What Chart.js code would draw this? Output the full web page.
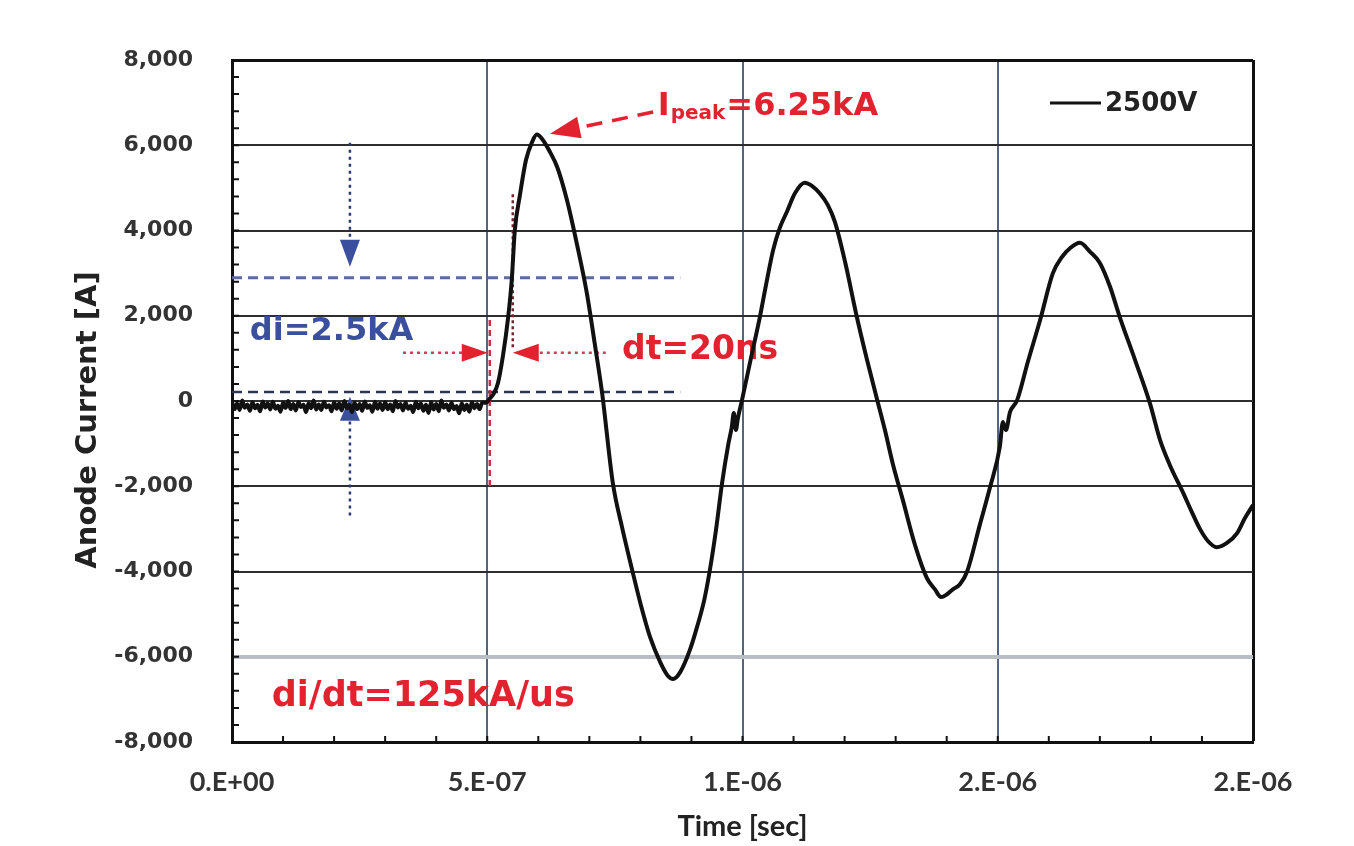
<!DOCTYPE html>
<html>
<head>
<meta charset="utf-8">
<script src="https://cdn.jsdelivr.net/npm/chart.js@4"></script>
<style>
  html, body { margin: 0; padding: 0; background: #ffffff; }
  #wrap { width: 1354px; height: 846px; position: relative; }
</style>
</head>
<body>
<div id="wrap"><canvas id="c" width="1354" height="846"></canvas></div>
<script>
// Anode current waveform of a 2500 V discharge (time in ns, current in A)
const seriesLabel = '2500V';

// pre-trigger baseline noise, sampled every 5 ns
const baselineNs = [
  0, 5, 10, 15, 20, 25, 30, 35, 40, 45,
  50, 55, 60, 65, 70, 75, 80, 85, 90, 95,
  100, 105, 110, 115, 120, 125, 130, 135, 140, 145,
  150, 155, 160, 165, 170, 175, 180, 185, 190, 195,
  200, 205, 210, 215, 220, 225, 230, 235, 240, 245,
  250, 255, 260, 265, 270, 275, 280, 285, 290, 295,
  300, 305, 310, 315, 320, 325, 330, 335, 340, 345,
  350, 355, 360, 365, 370, 375, 380, 385, 390, 395,
  400, 405, 410, 415, 420, 425, 430, 435, 440, 445,
  450, 455, 460, 465, 470, 475, 480, 485, 490
];
const baselineA = [
  -20, -190, -60, -210, 10, -160, -80, -230, -30, -170,
  -90, -240, -10, -150, -60, -200, -20, -180, -110, -250,
  -40, -160, 0, -190, -70, -220, -30, -140, -90, -260,
  -50, -170, 10, -200, -80, -210, -20, -150, -100, -240,
  -30, -180, -60, -220, 0, -170, -90, -260, -40, -190,
  -70, -230, -10, -160, -100, -250, -20, -180, -60, -210,
  -30, -190, -80, -240, 0, -150, -70, -220, -40, -180,
  -110, -260, -20, -170, -60, -230, -90, -280, -30, -200,
  -70, -240, 10, -160, -80, -220, -40, -190, -120, -290,
  -50, -210, -90, -250, -30, -170, -70, -190, -40
];

// ringing after the switch closes
const ringNs = [
  498, 505, 513, 521, 531, 541, 548, 554, 564, 576, 588, 597, 609, 623, 637, 656, 676, 695, 711, 725,
  746, 764, 784, 801, 819, 839, 854, 864, 878, 897, 911, 925, 936, 948, 960, 972, 979, 983, 987, 991,
  999, 1017, 1034, 1046, 1060, 1073, 1087, 1103, 1122, 1136, 1152, 1167, 1181, 1201, 1224, 1244, 1264,
  1279, 1295, 1314, 1338, 1361, 1377, 1389, 1400, 1412, 1426, 1440, 1465, 1485, 1504, 1510, 1516, 1524,
  1538, 1559, 1583, 1608, 1626, 1642, 1661, 1681, 1700, 1720, 1739, 1769, 1798,
  1818, 1837, 1863, 1880, 1896, 1912, 1929, 1949, 1969, 1984, 2000
];
const ringA = [
  -40, 60, 180, 420, 1080, 1970, 2840, 4000, 4830, 5660, 6080, 6250, 6125, 5840, 5490, 4720, 3660, 2535, 1310, 190,
  -1925, -2960, -3970, -4790, -5540, -6130, -6450, -6520, -6360, -5840, -5300, -4670, -3970, -3030, -1925, -1030, -610, -280, -680, -400,
  20, 1030, 1970, 2720, 3540, 4060, 4440, 4880, 5120, 5045, 4860, 4600, 4200, 3260, 1970, 960, 20,
  -680, -1500, -2320, -3380, -4150, -4420, -4600, -4540, -4420, -4300, -4000, -2900, -2020, -1080, -490, -680, -260,
  20, 920, 1900, 3000, 3380, 3590, 3710, 3500, 3240, 2680, 1970, 960, -50,
  -920, -1500, -2150, -2600, -3000, -3290, -3430, -3330, -3100, -2750, -2440
];

const peakCurrent = 6250;          // A, first current peak
const xTickValues = [0, 500, 1000, 1500, 2000];
const xTickLabels = ['0.E+00', '5.E-07', '1.E-06', '2.E-06', '2.E-06'];
const yTickLabels = ['-8,000', '-6,000', '-4,000', '-2,000', '0', '2,000', '4,000', '6,000', '8,000'];

const timeNs = baselineNs.concat(ringNs);
const currentA = baselineA.concat(ringA);
const points = timeNs.map((t, i) => ({ x: t, y: currentA[i] }));

const RED = '#e3222f';
const BLUE = '#3b4f9f';
const ANNO_FONT = 'DejaVu Sans';

function seg(ctx, x1, y1, x2, y2, color, width, dash) {
  ctx.save();
  ctx.strokeStyle = color;
  ctx.lineWidth = width;
  ctx.setLineDash(dash || []);
  ctx.beginPath();
  ctx.moveTo(x1, y1);
  ctx.lineTo(x2, y2);
  ctx.stroke();
  ctx.restore();
}

// filled arrow head with its tip at (tx, ty), pointing along angle ang
function head(ctx, tx, ty, ang, len, half, color) {
  ctx.save();
  ctx.translate(tx, ty);
  ctx.rotate(ang);
  ctx.fillStyle = color;
  ctx.beginPath();
  ctx.moveTo(0, 0);
  ctx.lineTo(-len, -half);
  ctx.lineTo(-len, half);
  ctx.closePath();
  ctx.fill();
  ctx.restore();
}

// inward minor tick marks on the left and bottom frame
const minorTicks = {
  id: 'minorTicks',
  beforeDatasetsDraw(chart) {
    const { ctx, chartArea: a, scales: { x, y } } = chart;
    ctx.save();
    ctx.strokeStyle = '#111';
    ctx.lineWidth = 2;
    ctx.beginPath();
    for (let v = -8000; v <= 8000; v += 400) {
      const p = y.getPixelForValue(v);
      ctx.moveTo(a.left, p);
      ctx.lineTo(a.left + 7, p);
    }
    for (let t = 0; t <= 2000; t += 100) {
      const p = x.getPixelForValue(t);
      ctx.moveTo(p, a.bottom);
      ctx.lineTo(p, a.bottom - 6);
    }
    ctx.stroke();
    ctx.restore();
  }
};

// rise-time and peak annotations, drawn under the waveform
const riseNotes = {
  id: 'riseNotes',
  beforeDatasetsDraw(chart) {
    const { ctx, scales: { x, y } } = chart;
    const X = t => x.getPixelForValue(t);
    const Y = a => y.getPixelForValue(a);

    // di bracket (blue)
    seg(ctx, X(0), Y(2890), X(878), Y(2890), '#5d6c9c', 3, [10, 6]);
    seg(ctx, X(0), Y(210), X(878), Y(210), '#2c3650', 2.5, [10, 6]);
    seg(ctx, X(231), Y(6060), X(231), Y(3800), '#2c3a6e', 2.5, [3, 4]);
    head(ctx, X(231), Y(3150), Math.PI / 2, 27, 10, BLUE);
    seg(ctx, X(231), Y(-480), X(231), Y(-2720), '#2c3a6e', 2.5, [3, 4]);
    head(ctx, X(231), Y(100), -Math.PI / 2, 24, 10, BLUE);

    ctx.save();
    ctx.font = 'bold 32px "' + ANNO_FONT + '"';
    ctx.textBaseline = 'middle';
    ctx.fillStyle = BLUE;
    ctx.fillText('di=2.5kA', X(35), Y(1620));
    ctx.restore();

    // dt markers (red)
    seg(ctx, X(505), Y(1900), X(505), Y(-2090), '#c8304a', 2.5, [6, 4]);
    seg(ctx, X(550), Y(4850), X(550), Y(1200), '#7a2030', 2.5, [3, 3]);
    seg(ctx, X(335), Y(1130), X(456), Y(1130), '#d0405a', 2.5, [3, 4]);
    head(ctx, X(501), Y(1130), 0, 26, 9, RED);
    seg(ctx, X(603), Y(1130), X(735), Y(1130), '#d0405a', 2.5, [3, 4]);
    head(ctx, X(550), Y(1130), Math.PI, 26, 9, RED);

    ctx.save();
    ctx.textBaseline = 'middle';
    ctx.fillStyle = RED;
    ctx.font = 'bold 33px "' + ANNO_FONT + '"';
    ctx.fillText('dt=20ns', X(764), Y(1180));
    ctx.font = 'bold 35px "' + ANNO_FONT + '"';
    ctx.fillText('di/dt=125kA/us', X(78), Y(-6950));
    ctx.restore();

    // peak pointer
    const sx = X(825), sy = Y(6780), tx = X(623), ty = Y(6270);
    const ang = Math.atan2(ty - sy, tx - sx);
    const bx = tx - Math.cos(ang) * 28, by = ty - Math.sin(ang) * 28;
    seg(ctx, sx, sy, bx, by, RED, 3.5, [16, 10]);
    head(ctx, tx, ty, ang, 30, 11, RED);

    ctx.save();
    ctx.fillStyle = RED;
    ctx.textBaseline = 'alphabetic';
    let cx = X(834);
    const base = Y(6700);
    ctx.font = 'bold 32px "' + ANNO_FONT + '"';
    ctx.fillText('I', cx, base);
    cx += ctx.measureText('I').width + 1;
    ctx.font = 'bold 20px "' + ANNO_FONT + '"';
    ctx.fillText('peak', cx, base + 4);
    cx += ctx.measureText('peak').width + 1;
    ctx.font = 'bold 32px "' + ANNO_FONT + '"';
    ctx.fillText('=' + (peakCurrent / 1000).toFixed(2) + 'kA', cx, base);
    ctx.restore();
  }
};

// series key inside the plot, plus the rotated value-axis title
const keyAndTitle = {
  id: 'keyAndTitle',
  afterDatasetsDraw(chart) {
    const { ctx, chartArea: a } = chart;
    const ds = chart.data.datasets[0];
    ctx.save();
    const ky = a.top + 43;
    seg(ctx, a.right - 203, ky, a.right - 152, ky, ds.borderColor, 3);
    ctx.font = 'bold 26px "DejaVu Sans"';
    ctx.fillStyle = '#222';
    ctx.textBaseline = 'middle';
    ctx.fillText(ds.label, a.right - 148, ky + 1);
    ctx.restore();
  },
  afterDraw(chart) {
    const { ctx, chartArea: a } = chart;
    ctx.save();
    ctx.translate(a.left - 144, (a.top + a.bottom) / 2 + 19);
    ctx.rotate(-Math.PI / 2);
    ctx.font = 'bold 29px "DejaVu Sans"';
    ctx.fillStyle = '#222';
    ctx.textAlign = 'center';
    ctx.textBaseline = 'middle';
    ctx.fillText('Anode Current [A]', 0, 0);
    ctx.restore();
  }
};

new Chart(document.getElementById('c'), {
  type: 'line',
  data: {
    datasets: [{
      label: seriesLabel,
      data: points,
      borderColor: '#111111',
      borderWidth: 4,
      pointRadius: 0,
      fill: false,
      cubicInterpolationMode: 'monotone'
    }]
  },
  options: {
    responsive: false,
    animation: false,
    devicePixelRatio: 1,
    layout: { padding: { top: 60, right: 101, left: 0, bottom: 0 } },
    plugins: { legend: { display: false }, tooltip: { enabled: false } },
    scales: {
      x: {
        type: 'linear',
        min: 0,
        max: 2000,
        afterFit(scale) { scale.height = 104; },
        afterBuildTicks(scale) { scale.ticks = xTickValues.map(v => ({ value: v })); },
        border: { color: '#111', width: 3 },
        grid: {
          drawTicks: false,
          color: c => (c.tick && (c.tick.value === 2000 || c.tick.value === 0)) ? '#111' : '#56647f',
          lineWidth: c => (c.tick && c.tick.value === 2000) ? 3 : 2
        },
        ticks: {
          padding: 24,
          maxRotation: 0,
          color: '#333',
          font: { family: 'Lato', size: 27, weight: 'bold' },
          callback: (v, i) => xTickLabels[i]
        },
        title: {
          display: true,
          text: 'Time [sec]',
          color: '#222',
          font: { family: 'Lato', size: 29, weight: 'bold' },
          padding: { top: 0, bottom: 2 }
        }
      },
      y: {
        type: 'linear',
        min: -8000,
        max: 8000,
        afterFit(scale) { scale.width = 232; },
        border: { color: '#111', width: 3 },
        grid: {
          drawTicks: false,
          color: c => {
            const v = c.tick && c.tick.value;
            if (v === 8000) return '#111';
            if (v === -6000) return '#b9bdc4';
            return '#2e2e2e';
          },
          lineWidth: c => {
            const v = c.tick && c.tick.value;
            if (v === 8000) return 3;
            if (v === -6000) return 4;
            return 2;
          }
        },
        ticks: {
          stepSize: 2000,
          padding: 39,
          color: '#333',
          font: { family: 'DejaVu Sans', size: 22, weight: 'bold' },
          callback: (v, i) => yTickLabels[i]
        }
      }
    }
  },
  plugins: [minorTicks, riseNotes, keyAndTitle]
});
</script>
</body>
</html>
